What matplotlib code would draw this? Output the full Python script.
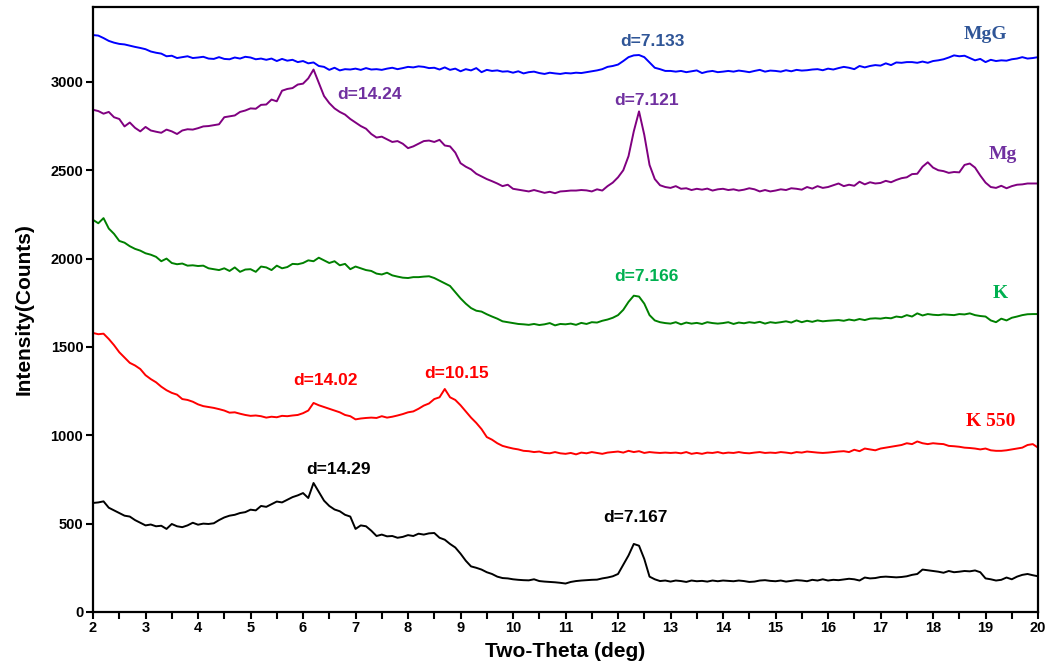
import numpy as np
import matplotlib
matplotlib.use("Agg")
import matplotlib.pyplot as plt
from matplotlib.ticker import MultipleLocator

two_theta = np.round(np.arange(2.0, 20.0001, 0.1), 1)

mgg = [3265, 3262, 3248, 3232, 3222, 3215, 3212, 3205, 3198, 3192,
       3185, 3172, 3165, 3160, 3145, 3148, 3135, 3140, 3145, 3135,
       3138, 3142, 3132, 3130, 3140, 3130, 3128, 3138, 3132, 3142,
       3138, 3128, 3132, 3125, 3132, 3118, 3130, 3120, 3125, 3112,
       3118, 3105, 3110, 3090, 3085, 3068, 3080, 3065, 3072, 3070,
       3075, 3068, 3078, 3070, 3072, 3068, 3075, 3080, 3072, 3078,
       3085, 3082, 3088, 3085, 3078, 3080, 3070, 3082, 3068, 3075,
       3060, 3072, 3065, 3078, 3055, 3068, 3062, 3065, 3058, 3060,
       3052, 3060, 3048, 3055, 3058, 3050, 3045, 3052, 3048, 3045,
       3050, 3048, 3052, 3050, 3055, 3060, 3065, 3072, 3085, 3090,
       3098, 3118, 3140, 3150, 3152, 3140, 3110, 3080, 3072, 3062,
       3062, 3058, 3062, 3055, 3060, 3065, 3050, 3058, 3062, 3055,
       3058, 3062, 3058, 3064, 3060, 3055, 3062, 3068, 3058, 3064,
       3062, 3058, 3066, 3060, 3068, 3064, 3066, 3070, 3072, 3066,
       3075, 3070, 3078, 3085, 3080, 3072, 3090, 3082, 3090, 3095,
       3092, 3105, 3095, 3110, 3108, 3112, 3112, 3108, 3115, 3108,
       3118, 3122, 3128, 3138, 3150, 3145, 3148, 3135, 3122, 3130,
       3112, 3125, 3118, 3122, 3120, 3128, 3132, 3140, 3132, 3135,
       3140]

mg = [2842, 2835, 2820, 2830, 2800, 2790, 2748, 2770, 2740, 2720,
      2745, 2725, 2718, 2712, 2730, 2720, 2705, 2725, 2732, 2730,
      2738, 2748, 2750, 2755, 2760, 2800, 2805, 2810, 2830, 2838,
      2850, 2848, 2870, 2872, 2900, 2890, 2950, 2960, 2965, 2985,
      2990, 3020, 3070, 2995, 2920, 2880, 2850, 2830, 2815, 2790,
      2770, 2750, 2735, 2705, 2685, 2690, 2675, 2660, 2665, 2650,
      2625, 2635, 2650, 2665, 2668, 2660, 2672, 2640, 2635, 2600,
      2540, 2520, 2505, 2480, 2465, 2450, 2438, 2425, 2410, 2418,
      2395, 2390, 2385, 2380, 2388, 2380, 2372, 2378, 2370, 2380,
      2382, 2385, 2385, 2388, 2386, 2380, 2392, 2385, 2410, 2430,
      2460, 2500, 2580, 2720, 2833, 2700, 2530, 2450, 2415, 2405,
      2400, 2410, 2395, 2398, 2388, 2395, 2390, 2396, 2385, 2392,
      2395, 2388, 2392, 2385, 2390, 2398, 2392, 2380, 2388, 2380,
      2385, 2392, 2388, 2398, 2395, 2390, 2405, 2396, 2410, 2400,
      2405, 2415, 2425, 2410, 2418, 2412, 2435, 2420, 2432, 2425,
      2428, 2440, 2432, 2445, 2455, 2460, 2478, 2480, 2520, 2545,
      2515, 2500, 2495, 2485, 2490, 2488, 2530, 2538, 2515, 2470,
      2430, 2405, 2400, 2412, 2398, 2410, 2418, 2420, 2425, 2425,
      2425]

k = [2219, 2200, 2229, 2170, 2140, 2100, 2090, 2070, 2055, 2045,
     2030, 2022, 2010, 1985, 2000, 1975, 1968, 1972, 1960, 1962,
     1958, 1960, 1945, 1940, 1935, 1945, 1930, 1950, 1925, 1938,
     1940, 1925, 1955, 1950, 1935, 1960, 1945, 1952, 1970, 1968,
     1975, 1990, 1985, 2005, 1990, 1975, 1985, 1962, 1970, 1940,
     1955, 1945, 1935, 1930, 1915, 1910, 1920, 1905, 1898, 1892,
     1890, 1895, 1895, 1898, 1900, 1890, 1875, 1860, 1845, 1810,
     1775, 1745, 1720, 1705, 1700, 1685, 1672, 1660, 1645, 1640,
     1635, 1630, 1628, 1625, 1630, 1624, 1628, 1635, 1622, 1630,
     1628, 1632, 1625, 1636, 1630, 1640, 1638, 1648, 1655, 1665,
     1680, 1710, 1755, 1790, 1785, 1745, 1680, 1650, 1640, 1635,
     1632, 1640, 1628, 1638, 1632, 1636, 1630, 1640, 1635, 1632,
     1635, 1640, 1630, 1638, 1634, 1640, 1636, 1642, 1632, 1640,
     1636, 1640, 1645, 1638, 1650, 1640, 1648, 1642, 1650, 1645,
     1648, 1650, 1652, 1648, 1655, 1650, 1658, 1652, 1660, 1662,
     1660, 1665, 1662, 1672, 1668, 1680, 1672, 1690, 1678, 1686,
     1682, 1680, 1684, 1682, 1680, 1686, 1684, 1690, 1680, 1675,
     1672, 1650, 1640, 1660, 1650, 1665, 1672, 1680, 1685, 1686,
     1686]

k550 = [1579, 1572, 1575, 1545, 1510, 1470, 1440, 1410, 1395, 1375,
        1340, 1318, 1300, 1275, 1255, 1240, 1230, 1205, 1200, 1190,
        1175, 1165, 1160, 1155, 1148, 1140, 1128, 1130, 1122, 1115,
        1110, 1112, 1108, 1100, 1105, 1102, 1110, 1108, 1112, 1115,
        1125, 1140, 1183, 1170, 1160, 1150, 1140, 1130, 1115, 1108,
        1090, 1095, 1098, 1100, 1098, 1108, 1100, 1105, 1112, 1120,
        1130, 1135, 1150, 1168, 1180, 1205, 1215, 1262, 1215, 1200,
        1170, 1135, 1100, 1070, 1035, 990, 975, 955, 940, 932,
        925, 920, 912, 910, 905, 908, 900, 898, 905, 898,
        895, 900, 892, 902, 898, 905, 900, 895, 902, 905,
        908, 902, 912, 905, 910, 900, 905, 902, 900, 902,
        900, 902, 898, 905, 895, 900, 895, 902, 900, 905,
        898, 902, 900, 905, 900, 898, 902, 905, 900, 902,
        900, 905, 902, 898, 905, 902, 908, 905, 902, 900,
        902, 905, 908, 910, 905, 918, 910, 925, 920, 915,
        925, 930, 935, 940, 945, 955, 950, 965, 955, 950,
        955, 952, 950, 940, 938, 935, 930, 928, 925, 920,
        925, 915, 912, 912, 915, 920, 925, 930, 945, 950,
        930]

k_raw = [617, 620, 626, 590, 575, 560, 545, 540, 520, 505,
         490, 495, 485, 488, 470, 498, 485, 480, 490, 505,
         494, 500, 498, 502, 520, 535, 545, 550, 560, 565,
         579, 575, 600, 595, 610, 625, 620, 635, 650, 660,
         673, 645, 730, 680, 630, 600, 580, 570, 550, 540,
         470, 490, 485, 460, 430, 438, 428, 430, 420, 425,
         435, 430, 443, 438, 445, 447, 420, 409, 385, 365,
         330, 290, 258, 250, 240, 225, 215, 200, 192, 190,
         185, 182, 180, 179, 185, 175, 172, 170, 168, 165,
         161, 170, 175, 178, 180, 182, 183, 190, 195, 202,
         215, 268, 320, 385, 375, 300, 200, 185, 175, 178,
         172, 178, 175, 170, 178, 174, 176, 172, 178, 174,
         178, 176, 174, 178, 175, 170, 172, 178, 180, 176,
         174, 178, 172, 176, 180, 178, 174, 182, 178, 185,
         178, 182, 180, 184, 188, 185, 178, 195, 190, 192,
         198, 200, 198, 196, 198, 202, 210, 215, 240, 236,
         232, 228, 222, 232, 225, 228, 232, 230, 235, 225,
         190, 185, 178, 182, 195, 185, 200, 210, 215, 208,
         202]

line_colors = ["#0000FF", "#800080", "#008000", "#FF0000", "#000000"]

fig = plt.figure(figsize=(10.5, 6.7), dpi=100)
ax = fig.add_axes([0.0886, 0.0866, 0.9, 0.903])

for vals, c in zip([mgg, mg, k, k550, k_raw], line_colors):
    ax.plot(two_theta, vals, color=c, lw=1.4)

ax.set_xlim(2, 20)
ax.set_ylim(0, 3424)
ax.xaxis.set_major_locator(MultipleLocator(1))
ax.xaxis.set_minor_locator(MultipleLocator(0.5))
ax.yaxis.set_major_locator(MultipleLocator(500))
ax.tick_params(axis="both", which="both", direction="out", width=1.5,
               labelsize=10.5)
ax.tick_params(axis="both", which="major", length=5)
ax.tick_params(axis="x", which="minor", length=5)
ax.tick_params(axis="x", which="major", pad=1.5)
ax.tick_params(axis="y", which="major", pad=2)
for lab in ax.get_xticklabels() + ax.get_yticklabels():
    lab.set_fontweight("bold")
    lab.set_family("Liberation Sans")
for sp in ax.spines.values():
    sp.set_linewidth(1.6)

ax.set_xlabel("Two-Theta (deg)", fontsize=15, fontweight="bold",
              family="Liberation Sans", labelpad=5)
ax.set_ylabel("Intensity(Counts)", fontsize=15, fontweight="bold",
              family="Liberation Sans", labelpad=12)

sans = dict(fontsize=12.5, fontweight="bold", family="Liberation Sans",
            ha="center", va="center")
serif = dict(fontsize=14, fontweight="bold", family="Liberation Serif",
             ha="center", va="center")

peak_labels = [
    (12.65, 3226, "d=7.133", "#2F5597"),
    (7.27, 2926, "d=14.24", "#7030A0"),
    (12.55, 2892, "d=7.121", "#7030A0"),
    (12.55, 1897, "d=7.166", "#00B050"),
    (6.42, 1309, "d=14.02", "#FF0000"),
    (8.93, 1349, "d=10.15", "#FF0000"),
    (6.67, 806, "d=14.29", "#000000"),
    (12.34, 534, "d=7.167", "#000000"),
]
for x, y, t, c in peak_labels:
    ax.text(x, y, t, color=c, **sans)

name_labels = [
    (18.99, 3266, "MgG", "#2F5597"),
    (19.33, 2588, "Mg", "#7030A0"),
    (19.28, 1800, "K", "#00B050"),
    (19.09, 1077, "K 550", "#FF0000"),
]
for x, y, t, c in name_labels:
    ax.text(x, y, t, color=c, **serif)

fig.savefig("out.png", dpi=100)
